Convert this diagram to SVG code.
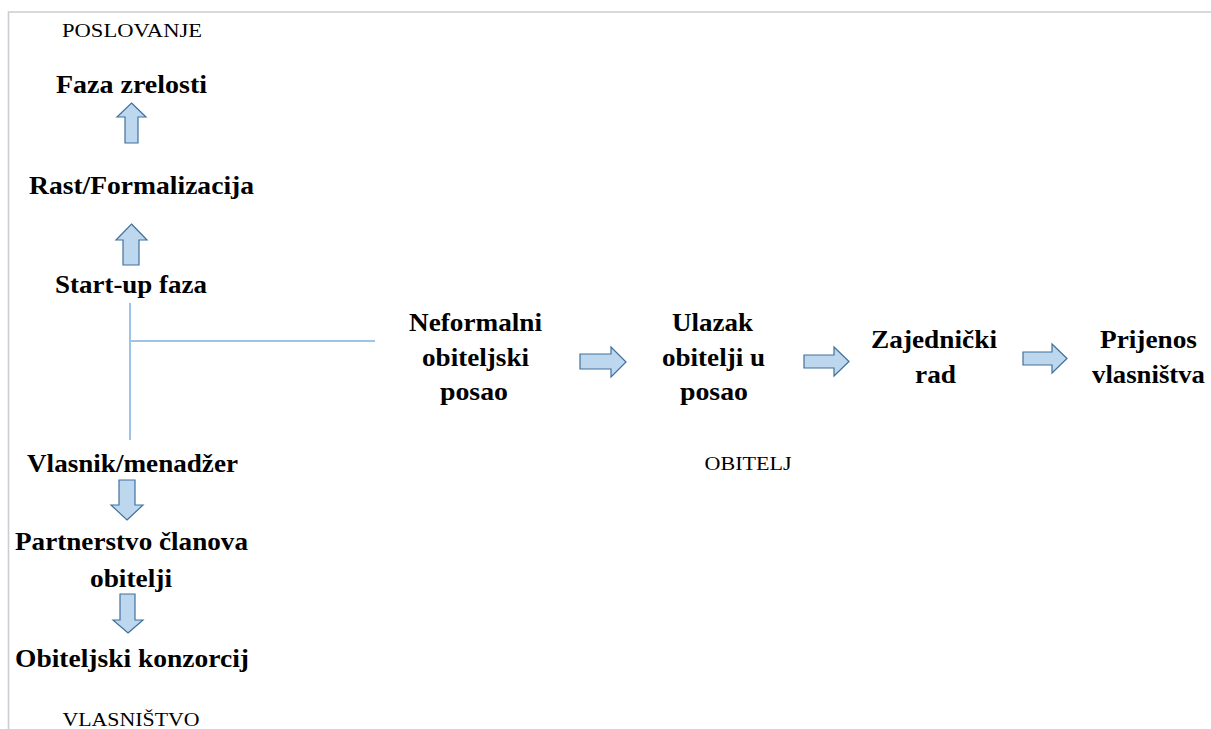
<svg xmlns="http://www.w3.org/2000/svg" width="1211" height="729" viewBox="0 0 1211 729">
<style>
.t{font-family:"Liberation Serif","Times New Roman",serif;font-weight:bold;font-size:25.5px;fill:#000;text-anchor:middle}
.s{font-family:"Liberation Serif","Times New Roman",serif;font-size:19px;fill:#000;text-anchor:middle}
.arr{fill:#BDD7EE;stroke:#41719C;stroke-width:1.2;stroke-linejoin:miter}
.ln{stroke:#9DC3E6;stroke-width:2;fill:none}
.frame{stroke:#CACED2;stroke-width:1.6;fill:none}
</style>
<rect width="1211" height="729" fill="#fff"/>
<path class="frame" d="M8.5,729 V12 H1211"/>
<g id="axis-labels">
<text class="s" x="132" y="37" textLength="140" lengthAdjust="spacingAndGlyphs">POSLOVANJE</text>
<text class="s" x="748" y="470" textLength="87" lengthAdjust="spacingAndGlyphs">OBITELJ</text>
<text class="s" x="131" y="726" textLength="137" lengthAdjust="spacingAndGlyphs">VLASNIŠTVO</text>
</g>
<g id="node-faza-zrelosti"><text class="t" x="131.5" y="93" textLength="151" lengthAdjust="spacingAndGlyphs">Faza zrelosti</text></g>
<g id="node-rast"><text class="t" x="141.5" y="194" textLength="225" lengthAdjust="spacingAndGlyphs">Rast/Formalizacija</text></g>
<g id="node-startup"><text class="t" x="131" y="293" textLength="152" lengthAdjust="spacingAndGlyphs">Start-up faza</text></g>
<g id="node-vlasnik"><text class="t" x="132.5" y="472" textLength="211" lengthAdjust="spacingAndGlyphs">Vlasnik/menadžer</text></g>
<g id="node-partnerstvo">
<text class="t" x="131.5" y="550" textLength="233" lengthAdjust="spacingAndGlyphs">Partnerstvo članova</text>
<text class="t" x="131" y="587" textLength="82" lengthAdjust="spacingAndGlyphs">obitelji</text>
</g>
<g id="node-konzorcij"><text class="t" x="132" y="667" textLength="234" lengthAdjust="spacingAndGlyphs">Obiteljski konzorcij</text></g>
<g id="node-neformalni">
<text class="t" x="475.5" y="331" textLength="133" lengthAdjust="spacingAndGlyphs">Neformalni</text>
<text class="t" x="475.5" y="366" textLength="107" lengthAdjust="spacingAndGlyphs">obiteljski</text>
<text class="t" x="474" y="400" textLength="68" lengthAdjust="spacingAndGlyphs">posao</text>
</g>
<g id="node-ulazak">
<text class="t" x="712.5" y="331" textLength="81" lengthAdjust="spacingAndGlyphs">Ulazak</text>
<text class="t" x="713.5" y="366" textLength="103" lengthAdjust="spacingAndGlyphs">obitelji u</text>
<text class="t" x="714" y="400" textLength="68" lengthAdjust="spacingAndGlyphs">posao</text>
</g>
<g id="node-zajednicki">
<text class="t" x="934" y="348" textLength="126" lengthAdjust="spacingAndGlyphs">Zajednički</text>
<text class="t" x="935.5" y="383" textLength="41" lengthAdjust="spacingAndGlyphs">rad</text>
</g>
<g id="node-prijenos">
<text class="t" x="1148.5" y="348" textLength="97" lengthAdjust="spacingAndGlyphs">Prijenos</text>
<text class="t" x="1148.5" y="383" textLength="113" lengthAdjust="spacingAndGlyphs">vlasništva</text>
</g>
<g id="connectors">
<path class="ln" d="M130,303 V440 M130,341 H375"/>
<path class="arr" d="M131.5,103 L146,117 H138 V143 H125 V117 H117 Z"/>
<path class="arr" d="M131.5,224 L147,240 H139 V265 H123 V240 H116 Z"/>
<path class="arr" d="M127,520 L143,505 H135 V480 H119 V505 H111 Z"/>
<path class="arr" d="M128,633 L143,620 H135 V594 H120 V620 H113 Z"/>
<path class="arr" d="M626,362 L611,347 V354 H580 V369 H611 V377 Z"/>
<path class="arr" d="M849,361.5 L834,347 V355 H804 V368 H834 V376 Z"/>
<path class="arr" d="M1067,358.5 L1052,344 V352 H1023 V365 H1052 V373 Z"/>
</g>
</svg>
